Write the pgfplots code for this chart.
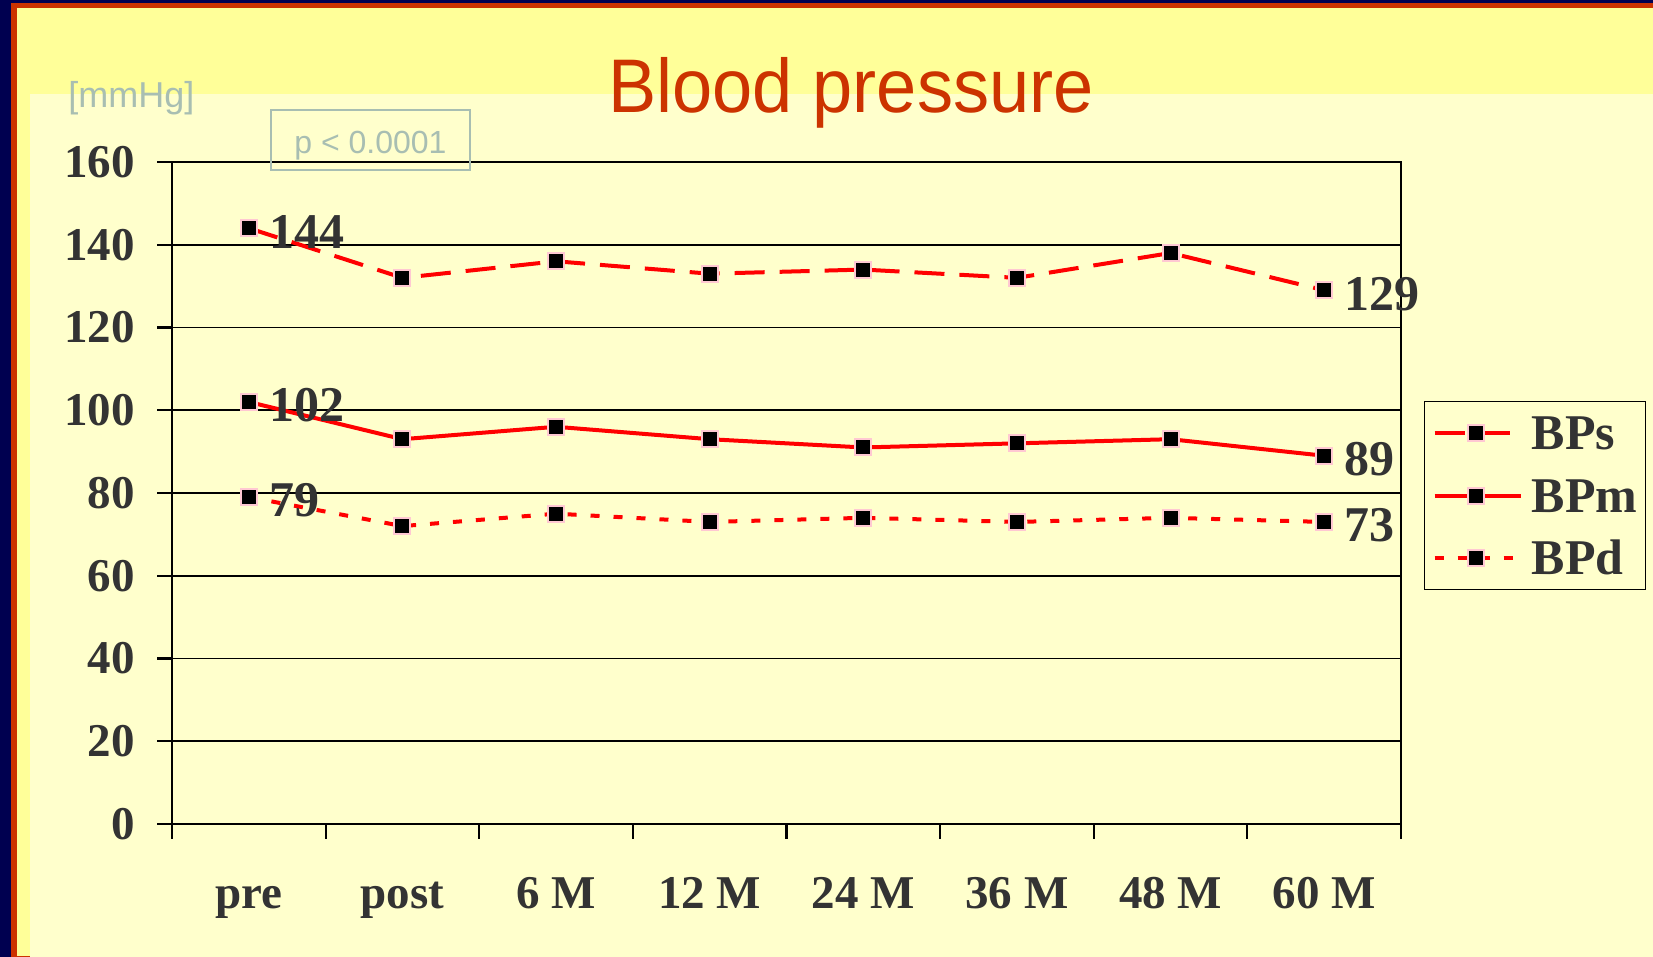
\documentclass[border=0pt]{standalone}
\usepackage{fontspec}
\setmainfont{Liberation Serif}
\newfontfamily\sansfont{Liberation Sans}
\newfontfamily\titlefont[FakeStretch=0.95]{Liberation Sans}
\usepackage{pgfplots}
\usepackage{pgfplotstable}
\pgfplotsset{compat=1.18}
\definecolor{navy}{RGB}{0,0,80}
\definecolor{brick}{RGB}{204,51,0}
\definecolor{ylw}{RGB}{255,255,153}
\definecolor{pale}{RGB}{255,255,204}
\definecolor{sage}{RGB}{168,190,178}
\definecolor{txt}{RGB}{51,51,51}
\definecolor{mkpink}{RGB}{255,200,210}

\pgfplotstableread{
x s m d
1 144 102 79
2 132 93 72
3 136 96 75
4 133 93 73
5 134 91 74
6 132 92 73
7 138 93 74
8 129 89 73
}\bpdata

\pgfplotstableread{
x y lab
1 144 144
1 102 102
1 79 79
8 129 129
8 89 89
8 73 73
}\labdata

\begin{document}
\begin{tikzpicture}
\useasboundingbox (0,0) rectangle (826.5pt,478.5pt);
% background
\fill[pale] (0,0) rectangle (826.5pt,478.5pt);
\fill[ylw] (0,431.5pt) rectangle (826.5pt,474.5pt);
\fill[ylw] (8.5pt,0.5pt) rectangle (15pt,431.5pt);
\fill[brick] (0,474.5pt) rectangle (826.5pt,477pt);
\fill[brick] (5.5pt,0) rectangle (8.5pt,477pt);
\fill[brick] (5.5pt,0) rectangle (15pt,0.5pt);
\fill[navy] (0,477pt) rectangle (826.5pt,478.5pt);
\fill[navy] (0,0) rectangle (5.5pt,478.5pt);

\begin{axis}[
  at={(86pt,66.5pt)}, anchor=south west,
  scale only axis, width=614.5pt, height=331pt,
  xmin=0.5, xmax=8.5, ymin=0, ymax=160,
  xtick={0.5,1.5,...,8.5}, x tick label as interval,
  xticklabels={pre,post,6 M,12 M,24 M,36 M,48 M,60 M},
  ytick={0,20,...,160},
  tick align=outside, major tick length=7.5pt,
  xtick pos=bottom, ytick pos=left,
  ymajorgrids, grid style={black, line width=0.9pt},
  axis line style={black, line width=1.1pt},
  tick style={black, line width=1.1pt},
  /pgf/number format/assume math mode=true,
  ticklabel style={font=\fontsize{23.5}{23.5}\selectfont\bfseries, text=txt},
  xticklabel style={inner sep=0pt, anchor=north, text height=17pt, text depth=5pt},
  xticklabel shift=17.5pt,
  yticklabel style={inner sep=0pt, anchor=east},
  yticklabel shift=11pt,
  legend style={at={(1.0187,0.639)}, anchor=north west, draw=black,
    line width=0.75pt, fill=none, text=txt,
    font=\fontsize{25}{25}\selectfont\bfseries,
    inner xsep=4pt, inner ysep=7.5pt, row sep=14.75pt, column sep=4.5pt,
    nodes={inner sep=0pt, text height=16.5pt, text depth=0pt}},
  legend cell align=left,
  legend image code/.code={\draw[mark repeat=2,mark phase=2,#1] plot coordinates {(0pt,0pt) (20.5pt,0pt) (43pt,0pt)};},
]
\addplot[red, line width=2pt, dash pattern=on 15pt off 7.5pt, mark=square*, mark size=4pt,
  mark options={solid, fill=black, draw=mkpink, line width=1pt}] table[x=x,y=s]{\bpdata};
\addlegendentry{BPs}
\addplot[red, line width=2pt, solid, mark=square*, mark size=4pt,
  mark options={solid, fill=black, draw=mkpink, line width=1pt}] table[x=x,y=m]{\bpdata};
\addlegendentry{BPm}
\addplot[red, line width=2pt, dash pattern=on 4.5pt off 7pt, mark=square*, mark size=4pt,
  mark options={solid, fill=black, draw=mkpink, line width=1pt}] table[x=x,y=d]{\bpdata};
\addlegendentry{BPd}
\addplot[forget plot, draw=none, mark=none, nodes near coords, point meta=explicit symbolic,
  nodes near coords style={anchor=west, inner sep=0pt, xshift=10pt, yshift=-1.75pt,
    font=\fontsize{25}{25}\selectfont\bfseries, text=txt}]
  table[x=x,y=y,meta=lab]{\labdata};
\end{axis}

% title and annotations
\node[anchor=base, text=brick, font=\titlefont\fontsize{38}{38}\selectfont, inner sep=0pt]
  at (425.5pt,422pt) {Blood pressure};
\node[anchor=base west, text=sage, font=\sansfont\fontsize{18}{18}\selectfont, inner sep=0pt]
  at (34pt,424.5pt) {[mmHg]};
\draw[sage, line width=1pt] (135.5pt,393.5pt) rectangle (235pt,423.5pt);
\node[anchor=base, text=sage, font=\sansfont\fontsize{16}{16}\selectfont, inner sep=0pt]
  at (185.25pt,401.5pt) {p < 0.0001};
\end{tikzpicture}
\end{document}
